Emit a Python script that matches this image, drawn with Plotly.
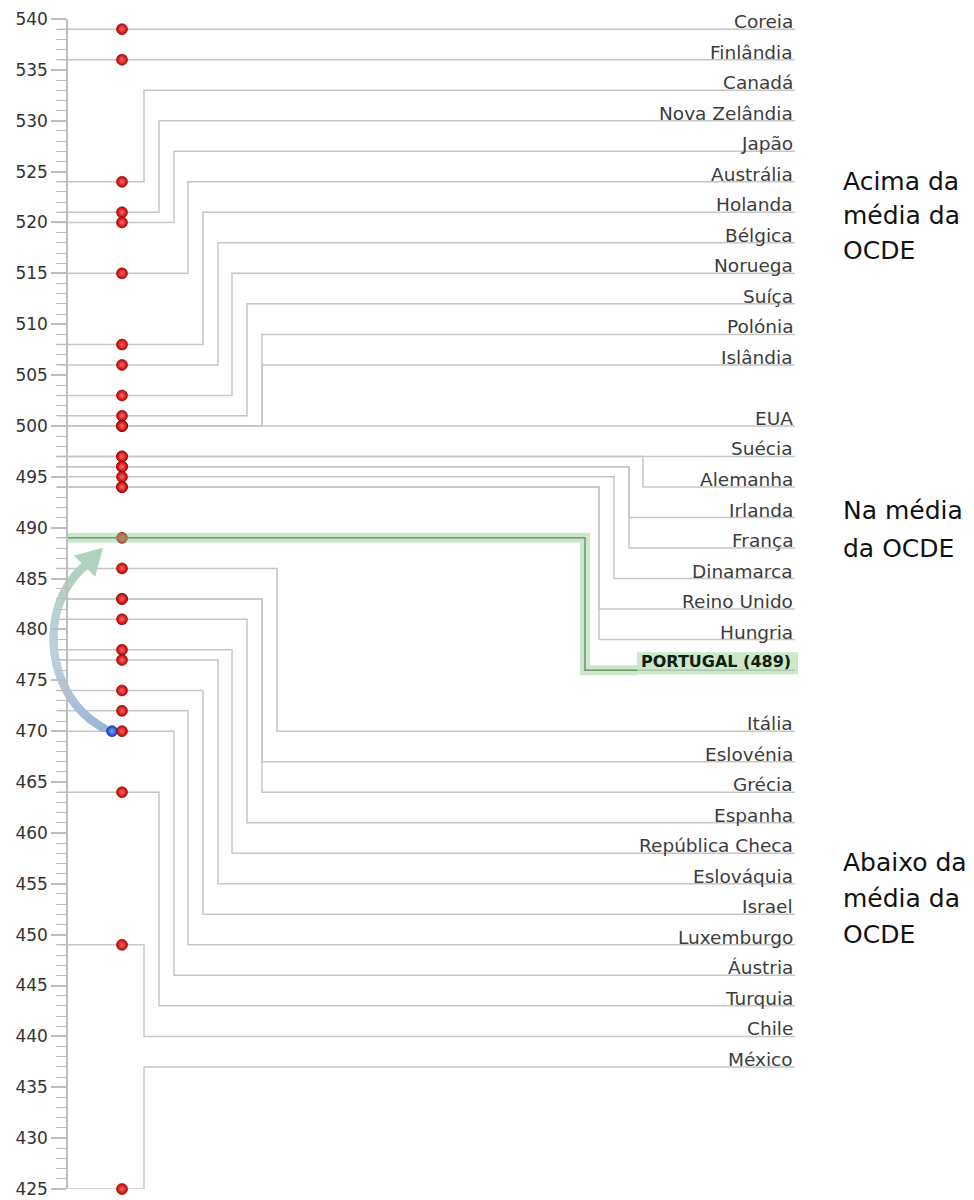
import numpy as np
import plotly.graph_objects as go

# ---------------- data ----------------
countries = ["Coreia", "Finlândia", "Canadá", "Nova Zelândia", "Japão", "Austrália",
             "Holanda", "Bélgica", "Noruega", "Suíça", "Polónia", "Islândia",
             "EUA", "Suécia", "Alemanha", "Irlanda", "França", "Dinamarca",
             "Reino Unido", "Hungria", "Portugal",
             "Itália", "Eslovénia", "Grécia", "Espanha", "República Checa", "Eslováquia",
             "Israel", "Luxemburgo", "Áustria", "Turquia", "Chile", "México"]
scores = [539, 536, 524, 521, 520, 515, 508, 506, 503, 501, 500, 500,
          500, 497, 497, 496, 496, 495, 494, 494, 489,
          486, 483, 483, 481, 478, 477, 474, 472, 470, 464, 449, 425]
groups = ["acima"] * 12 + ["na"] * 9 + ["abaixo"] * 12
group_order = ["acima", "na", "abaixo"]
group_text = {"acima": ["Acima da", "média da", "OCDE"],
              "na": ["Na média", "da OCDE"],
              "abaixo": ["Abaixo da", "média da", "OCDE"]}
highlight = "Portugal"
highlight_previous = 470          # earlier score shown by the blue dot
y_min, y_max = 425, 540

# ---------------- layout constants ----------------
W, H = 974, 1200
PX_TOP, PX_BOTTOM = 19, 1189      # pixel rows of y_max / y_min
AXIS_X = 67
LINE_START_X = 57
LABEL_X = 795
DOT_X = 122
PREV_DOT_X = 112
ROW_TOP, ROW_STEP = 539, 3
# x of the vertical elbow for each country (None = straight line)
CONNECTOR_X = [None, None, 144, 159, 174, 188, 203, 218, 232, 247, 262, 262,
               None, None, 643, 629, 629, 614, 599, 599, 585,
               277, 262, 262, 247, 232, 218, 203, 188, 174, 159, 144, 144]
GREY = "#c6c6c6"
FONT = "DejaVu Sans"

ppu = (PX_BOTTOM - PX_TOP) / (y_max - y_min)


def val_to_px(v):
    return PX_TOP + (y_max - v) * ppu


def px_to_val(p):
    return y_max - (p - PX_TOP) / ppu


# label rows
rows = []
for i, g in enumerate(groups):
    gi = group_order.index(g)
    rows.append(ROW_TOP - ROW_STEP * (i + gi))

fig = go.Figure()

# grey connector lines
lx, ly = [], []
for s, r, cx in zip(scores, rows, CONNECTOR_X):
    if cx is None:
        lx += [LINE_START_X, LABEL_X, None]
        ly += [s, s, None]
    else:
        lx += [LINE_START_X, cx, cx, LABEL_X, None]
        ly += [s, s, r, r, None]
fig.add_trace(go.Scatter(x=lx, y=ly, mode="lines", line=dict(color=GREY, width=1.5),
                         hoverinfo="skip", cliponaxis=False, showlegend=False))

# curved arrow from previous score to current score of highlighted country
hi = countries.index(highlight)
h_score, h_row, h_cx = scores[hi], rows[hi], CONNECTOR_X[hi]
p_start = np.array([PREV_DOT_X - 8, val_to_px(highlight_previous) - 3])
p_tip = np.array([DOT_X - 19, val_to_px(h_score) + 10])
direction = np.array([1.0, -1.0]) / np.sqrt(2)
head_len, head_half = 26, 15
p_end = p_tip - head_len * direction
c1 = np.array([p_start[0] - 59, p_start[1] - 31])
c2 = np.array([p_end[0] - 48, p_end[1] + 40])
t = np.linspace(0, 1, 160)
bez = ((1 - t) ** 3)[:, None] * p_start + (3 * (1 - t) ** 2 * t)[:, None] * c1 \
    + (3 * (1 - t) * t ** 2)[:, None] * c2 + (t ** 3)[:, None] * p_end
fig.add_trace(go.Scatter(
    x=bez[:, 0], y=[px_to_val(p) for p in bez[:, 1]], mode="markers",
    marker=dict(size=8, color=t, line=dict(width=0),
                colorscale=[[0, "rgb(155,180,212)"], [0.5, "rgb(190,208,222)"],
                            [1, "rgb(175,210,188)"]], showscale=False),
    hoverinfo="skip", cliponaxis=False, showlegend=False))
perp = np.array([direction[1], -direction[0]])
corner1 = p_end + head_half * perp
corner2 = p_end - head_half * perp
tri = [p_tip, corner1, corner2, p_tip]
fig.add_trace(go.Scatter(
    x=[p[0] for p in tri], y=[px_to_val(p[1]) for p in tri], mode="lines",
    fill="toself", fillcolor="rgb(175,210,188)", line=dict(width=0),
    hoverinfo="skip", cliponaxis=False, showlegend=False))

# previous score dot (blue)
fig.add_trace(go.Scatter(
    x=[PREV_DOT_X], y=[highlight_previous], mode="markers",
    marker=dict(size=11, color="#0a3cc8", line=dict(color="#062a90", width=0.6),
                gradient=dict(type="radial", color="#7fa8ff")),
    hoverinfo="skip", cliponaxis=False, showlegend=False))

# red score dots
fig.add_trace(go.Scatter(
    x=[DOT_X] * len(scores), y=scores, mode="markers",
    marker=dict(size=11, color="#c00000", line=dict(color="#8a0000", width=0.6),
                gradient=dict(type="radial", color="#ff6a6a")),
    text=countries, hovertemplate="%{text}: %{y}<extra></extra>",
    cliponaxis=False, showlegend=False))

# green highlight band for the highlighted country
band_x = [AXIS_X, h_cx, h_cx, LABEL_X - 158]
band_y = [h_score, h_score, h_row, h_row]
fig.add_trace(go.Scatter(x=band_x, y=band_y, mode="lines",
                         line=dict(color="rgba(140,205,140,0.45)", width=10),
                         hoverinfo="skip", cliponaxis=False, showlegend=False))
fig.add_trace(go.Scatter(x=band_x, y=band_y, mode="lines",
                         line=dict(color="rgb(120,152,120)", width=1.5),
                         hoverinfo="skip", cliponaxis=False, showlegend=False))
fig.add_shape(type="rect", x0=LABEL_X - 158, x1=LABEL_X + 3,
              y0=px_to_val(val_to_px(h_row) + 4), y1=px_to_val(val_to_px(h_row) - 18),
              fillcolor="rgba(140,205,140,0.45)", line=dict(width=0), layer="above")

# country labels
for name, r in zip(countries, rows):
    if name == highlight:
        fig.add_annotation(x=LABEL_X - 2, y=r, xref="x", yref="y", xanchor="right",
                           yanchor="bottom", yshift=-3, showarrow=False,
                           text="<b>%s (%d)</b>" % (name.upper(), h_score),
                           font=dict(family=FONT, size=16, color="#102010"))
    else:
        fig.add_annotation(x=LABEL_X, y=r, xref="x", yref="y", xanchor="right",
                           yanchor="bottom", yshift=-5, showarrow=False, text=name,
                           font=dict(family=FONT, size=18.5, color="#3c3c3c"))

# group labels
GROUP_LINE_PX = {"acima": [182, 216, 250], "na": [510, 548], "abaixo": [862, 898, 934]}
for g in group_order:
    for txt, py in zip(group_text[g], GROUP_LINE_PX[g]):
        fig.add_annotation(x=841 / W, y=1 - py / H, xref="paper", yref="paper",
                           xanchor="left", yanchor="middle", showarrow=False, text=txt,
                           font=dict(family=FONT, size=25, color="#111111"))

fig.update_layout(
    width=W, height=H, margin=dict(l=0, r=0, t=0, b=0, autoexpand=False),
    paper_bgcolor="white", plot_bgcolor="white",
    xaxis=dict(range=[0, W], domain=[0, 1], visible=False, fixedrange=True,
               automargin=False),
    yaxis=dict(range=[y_min, y_max], domain=[1 - PX_BOTTOM / H, 1 - PX_TOP / H],
               anchor="free", position=AXIS_X / W, automargin=False,
               ticklabeloverflow="allow",
               tick0=y_min, dtick=5, ticks="outside", ticklen=15, tickwidth=1.5,
               tickcolor="#bdbdbd", showline=True, linecolor="#bdbdbd", linewidth=1.5,
               showgrid=False, zeroline=False,
               tickfont=dict(family=FONT, size=17, color="#333333"),
               minor=dict(dtick=1, ticks="outside", ticklen=10, tickwidth=1.2,
                          tickcolor="#bdbdbd", showgrid=False)),
)

fig.write_html("out.html", config={"displayModeBar": False},
               post_script="document.body.style.margin='0';document.body.style.overflow='hidden';")
